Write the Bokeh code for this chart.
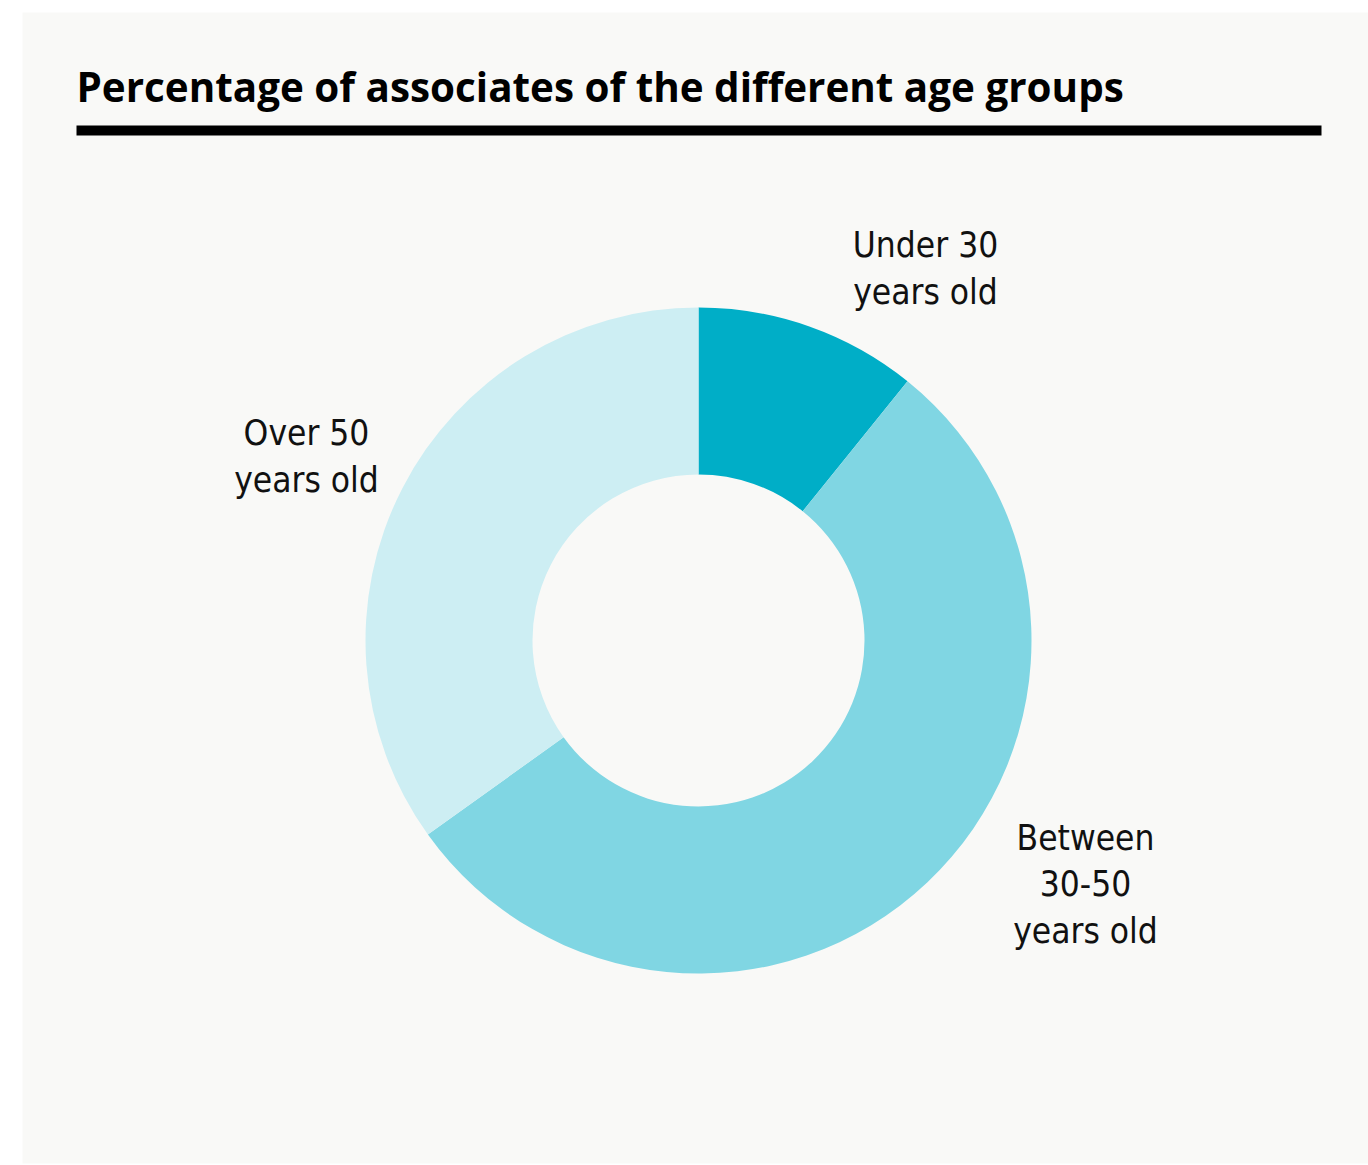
import math
from bokeh.plotting import figure
from bokeh.models import Range1d, ColumnDataSource
from bokeh.core.properties import value
from bokeh.embed import file_html
from bokeh.resources import INLINE

# ---- data ----
categories = ["Under 30\nyears old", "Between\n30-50\nyears old", "Over 50\nyears old"]
shares = [10.8, 54.3, 34.9]
colors = ["#00aec7", "#80d6e3", "#cdeef3"]
title_text = "Percentage of associates of the different age groups"

# ---- layout (page pixel coordinates) ----
W, H = 1368, 1165
def py(y):
    return H - y  # page y -> data y (upward)

p = figure(width=W, height=H, output_backend="svg", toolbar_location=None,
           x_range=Range1d(0, W), y_range=Range1d(0, H),
           min_border=0, outline_line_color=None,
           background_fill_color="white", border_fill_color="white")
p.axis.visible = False
p.grid.visible = False

# panel
p.quad(left=[22], right=[1370], top=[py(12)], bottom=[py(1163)],
       fill_color="#f9f9f7", line_color=None)

# title and rule
p.text(x=[76], y=[py(86)], text=[title_text], text_font=value("Open Sans"),
       text_font_style="bold", text_font_size="40.4px", text_color="#000000",
       text_baseline="middle", text_align="left")
p.quad(left=[76], right=[1321], top=[py(125)], bottom=[py(135)],
       fill_color="#000000", line_color=None)

# donut
cx, cy = 698, py(640)
total = sum(shares)
starts, ends = [], []
c = 0.0
for s in shares:
    starts.append(math.pi / 2 - 2 * math.pi * c / total)
    c += s
    ends.append(math.pi / 2 - 2 * math.pi * c / total)
src = ColumnDataSource(dict(start=starts, end=ends, color=colors, cat=categories))
p.annular_wedge(x=cx, y=cy, inner_radius=166, outer_radius=333,
                start_angle="start", end_angle="end", direction="clock",
                fill_color="color", line_color=None, source=src)

# labels (manually placed like the original)
label_x = [925, 1085, 306]
label_y = [py(268), py(884), py(456)]
lsrc = ColumnDataSource(dict(x=label_x, y=label_y, t=categories))
p.text(x="x", y="y", text="t", source=lsrc,
       text_font=value("'Liberation Sans Narrow', 'DejaVu Sans Condensed', 'Noto Sans Condensed', 'Roboto Condensed', 'Open Sans Condensed', Roboto"),
       text_font_size="35px", text_color="#111111", text_align="center",
       text_baseline="middle", text_line_height=1.17)

open("out.html", "w").write(file_html(p, INLINE))
